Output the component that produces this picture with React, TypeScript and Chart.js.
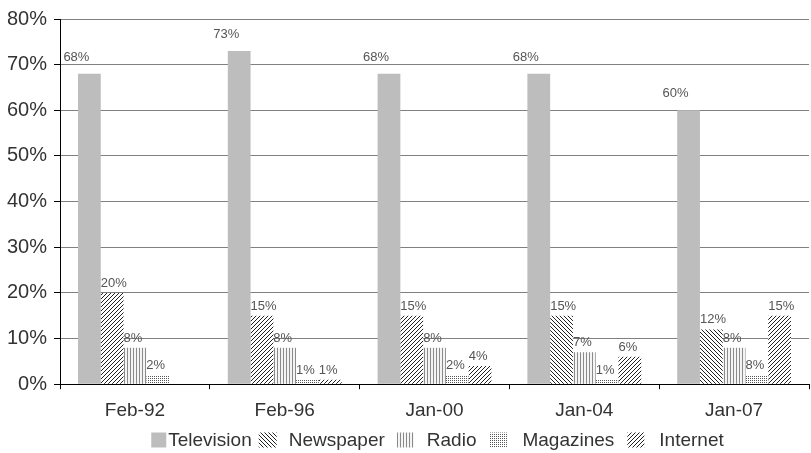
import React, { useEffect, useRef } from "react";
import { Chart, registerables } from "chart.js";

Chart.register(...registerables);

const categories = ["Feb-92", "Feb-96", "Jan-00", "Jan-04", "Jan-07"];
const seriesNames = ["Television", "Newspaper", "Radio", "Magazines", "Internet"];
const television = [68, 73, 68, 68, 60];
const newspaper = [20, 15, 15, 15, 12];
const radio = [8, 8, 8, 7, 8];
const magazines = [2, 1, 2, 1, 2];
const internet = [0, 1, 4, 6, 15];
const televisionLabels = ["68%", "73%", "68%", "68%", "60%"];
const newspaperLabels = ["20%", "15%", "15%", "15%", "12%"];
const radioLabels = ["8%", "8%", "8%", "7%", "8%"];
const magazinesLabels = ["2%", "1%", "2%", "1%", "8%"];
const internetLabels = ["", "1%", "4%", "6%", "15%"];
const yTicks = [0, 10, 20, 30, 40, 50, 60, 70, 80];

const FONT = "'Liberation Sans', Arial, sans-serif";

function makePattern(kind: string): CanvasPattern | string {
  const s = kind === "vert" ? 3 : kind === "dots" ? 2 : 4;
  const c = document.createElement("canvas");
  c.width = s;
  c.height = s;
  const g = c.getContext("2d");
  if (!g) return "#999";
  g.fillStyle = kind === "vert" ? "#f4f4f4" : "#ffffff";
  g.fillRect(0, 0, s, s);
  if (kind === "fwd" || kind === "back") {
    g.strokeStyle = "#222";
    g.lineWidth = 1;
    g.beginPath();
    if (kind === "fwd") {
      g.moveTo(-1, s + 1); g.lineTo(s + 1, -1);
      g.moveTo(-1, 1); g.lineTo(1, -1);
      g.moveTo(s - 1, s + 1); g.lineTo(s + 1, s - 1);
    } else {
      g.moveTo(-1, -1); g.lineTo(s + 1, s + 1);
      g.moveTo(s - 1, -1); g.lineTo(s + 1, 1);
      g.moveTo(-1, s - 1); g.lineTo(1, s + 1);
    }
    g.stroke();
  } else if (kind === "vert") {
    g.fillStyle = "#8a8a8a";
    g.fillRect(1, 0, 1, s);
  } else if (kind === "dots") {
    g.fillStyle = "#555";
    g.fillRect(0, 0, 1, 1);
  }
  const p = g.createPattern(c, "repeat");
  return p || "#999";
}

export default function App() {
  const ref = useRef<HTMLCanvasElement | null>(null);
  useEffect(() => {
    document.body.style.margin = "0";
    if (!ref.current) return;
    const fwd = makePattern("fwd");
    const back = makePattern("back");
    const vert = makePattern("vert");
    const dots = makePattern("dots");
    const labelSets = [televisionLabels, newspaperLabels, radioLabels, magazinesLabels, internetLabels];
    const legendFills: any[] = ["#bdbdbd", back, vert, dots, fwd];

    const labelPlugin = {
      id: "barLabels",
      afterDatasetsDraw(chart: any) {
        const ctx = chart.ctx;
        ctx.save();
        ctx.font = "13px " + FONT;
        ctx.fillStyle = "#555";
        ctx.textBaseline = "alphabetic";
        chart.data.datasets.forEach((ds: any, i: number) => {
          const meta = chart.getDatasetMeta(i);
          meta.data.forEach((bar: any, j: number) => {
            const txt = labelSets[i][j];
            if (!txt) return;
            if (i === 0) {
              ctx.textAlign = "center";
              ctx.fillText(txt, bar.x - 13, bar.y - 13);
            } else {
              ctx.textAlign = "left";
              ctx.fillText(txt, bar.x - bar.width / 2, bar.y - 6);
            }
          });
        });
        ctx.restore();
      },
    };

    const legendPlugin = {
      id: "customLegend",
      afterDraw(chart: any) {
        const ctx = chart.ctx;
        ctx.save();
        ctx.font = "19px " + FONT;
        const symW = [15, 18, 17, 18, 17];
        const gapAfterSym = [2, 12, 13, 15, 15];
        const gapAfterText = [7, 12, 13, 13, 0];
        const widths = seriesNames.map((n) => ctx.measureText(n).width);
        let total = 0;
        seriesNames.forEach((n, k) => {
          total += symW[k] + gapAfterSym[k] + widths[k] + gapAfterText[k];
        });
        const cx = (chart.chartArea.left + chart.chartArea.right) / 2 + 3;
        let x = cx - total / 2;
        const yc = 440;
        const sh = 15;
        ctx.textBaseline = "middle";
        ctx.textAlign = "left";
        seriesNames.forEach((n, k) => {
          ctx.fillStyle = legendFills[k];
          ctx.fillRect(x, yc - sh / 2, symW[k], sh);
          x += symW[k] + gapAfterSym[k];
          ctx.fillStyle = "#333";
          ctx.fillText(n, x, yc + 1);
          x += widths[k] + gapAfterText[k];
        });
        ctx.restore();
      },
    };

    const chart = new Chart(ref.current, {
      type: "bar",
      data: {
        labels: categories,
        datasets: [
          { label: seriesNames[0], data: television, backgroundColor: "#bdbdbd" },
          { label: seriesNames[1], data: newspaper, backgroundColor: [fwd, fwd, fwd, back, back] as any },
          { label: seriesNames[2], data: radio, backgroundColor: vert as any },
          { label: seriesNames[3], data: magazines, backgroundColor: dots as any },
          { label: seriesNames[4], data: internet, backgroundColor: fwd as any },
        ],
      },
      options: {
        animation: false,
        responsive: false,
        maintainAspectRatio: false,
        layout: { padding: { left: 0, right: 2, top: 8, bottom: 21 } },
        datasets: { bar: { categoryPercentage: 0.76, barPercentage: 1, borderWidth: 0 } } as any,
        scales: {
          x: {
            grid: { display: true, drawOnChartArea: false, drawTicks: true, tickLength: 5, tickColor: "#000", offset: true },
            border: { color: "#000", width: 1 },
            ticks: { font: { family: FONT, size: 19 }, color: "#333", padding: 10 },
          },
          y: {
            min: 0,
            max: 80,
            afterBuildTicks: (axis: any) => {
              axis.ticks = yTicks.map((v) => ({ value: v }));
            },
            grid: { color: "#808080", lineWidth: 1, tickLength: 6, tickColor: "#000" },
            border: { color: "#000", width: 1 },
            ticks: {
              font: { family: FONT, size: 20 },
              color: "#333",
              padding: 7,
              callback: (v: any) => v + "%",
            },
          },
        },
        plugins: {
          tooltip: { enabled: false },
          legend: { display: false },
        },
      },
      plugins: [labelPlugin, legendPlugin],
    });
    return () => chart.destroy();
  }, []);
  return <canvas ref={ref} width={811} height={453} style={{ display: "block" }} />;
}
